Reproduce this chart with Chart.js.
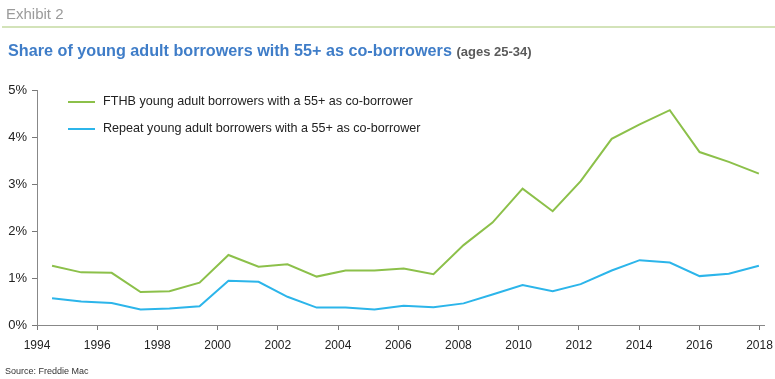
<!DOCTYPE html>
<html>
<head>
<meta charset="utf-8">
<script src="https://cdn.jsdelivr.net/npm/chart.js@4.4.1/dist/chart.umd.min.js"></script>
<style>
  html, body { margin: 0; padding: 0; background: #fff; }
  body { width: 775px; height: 379px; position: relative; overflow: hidden; font-family: "Liberation Sans", Arial, sans-serif; }
  #wrap { position: absolute; left: 0; top: 0; width: 775px; height: 379px; }
  .exhibit { position: absolute; left: 6px; top: 5px; font-size: 15px; color: #9b9b9b; }
  .rule { position: absolute; left: 2px; right: 0; top: 26px; height: 2px; background: #d3e3b9; }
  .title { position: absolute; left: 8px; top: 41px; font-size: 16.2px; font-weight: bold; color: #3f7dc8; white-space: nowrap; }
  .title span { font-size: 13px; color: #5a5a5a; }
  .source { position: absolute; left: 5px; top: 366px; font-size: 9px; color: #333; }
</style>
</head>
<body>
<div id="wrap"><canvas id="lineChart" width="775" height="379"></canvas></div>
<div class="exhibit">Exhibit 2</div>
<div class="rule"></div>
<div class="title">Share of young adult borrowers with 55+ as co-borrowers <span>(ages 25-34)</span></div>
<div class="source">Source: Freddie Mac</div>
<script>
// point positions on the year axis
var years = [1994.5, 1995.47, 1996.48, 1997.44, 1998.4, 1999.4, 2000.36, 2001.36, 2002.32, 2003.29,
  2004.25, 2005.21, 2006.18, 2007.17, 2008.17, 2009.13, 2010.13, 2011.13, 2012.06, 2013.09,
  2014.02, 2015.02, 2016.01, 2016.98, 2017.98];
var fthb = [1.26, 1.12, 1.11, 0.70, 0.72, 0.90, 1.49, 1.24, 1.29, 1.03,
  1.16, 1.16, 1.20, 1.08, 1.70, 2.18, 2.90, 2.42, 3.06, 3.96,
  4.27, 4.57, 3.68, 3.47, 3.22];
var repeat = [0.57, 0.50, 0.47, 0.33, 0.35, 0.40, 0.94, 0.92, 0.60, 0.37,
  0.37, 0.33, 0.41, 0.38, 0.46, 0.65, 0.85, 0.72, 0.87, 1.16,
  1.38, 1.33, 1.04, 1.09, 1.26];
var seriesNames = ["FTHB young adult borrowers with a 55+ as co-borrower",
  "Repeat young adult borrowers with a 55+ as co-borrower"];
var yTicks = [0, 1, 2, 3, 4, 5];

function pts(vals) {
  return vals.map(function (v, i) { return { x: years[i], y: v }; });
}

// legend drawn inside the plot, top-left
var insideLegend = {
  id: 'insideLegend',
  afterDraw: function (chart) {
    var ctx = chart.ctx;
    var a = chart.chartArea;
    ctx.save();
    ctx.font = '12.6px "Liberation Sans", Arial, sans-serif';
    ctx.textBaseline = 'middle';
    chart.data.datasets.forEach(function (ds, i) {
      var y = a.top + 12 + i * 27;
      ctx.strokeStyle = ds.borderColor;
      ctx.lineWidth = 2;
      ctx.beginPath();
      ctx.moveTo(a.left + 31, y);
      ctx.lineTo(a.left + 58, y);
      ctx.stroke();
      ctx.fillStyle = '#222';
      ctx.fillText(ds.label, a.left + 66, y);
    });
    ctx.restore();
  }
};

var ctxL = document.getElementById("lineChart").getContext('2d');
var myLineChart = new Chart(ctxL, {
  type: 'line',
  data: {
    datasets: [{
        label: seriesNames[0],
        data: pts(fthb),
        borderColor: '#8cc04a',
        borderWidth: 2,
        pointRadius: 0,
        tension: 0
      },
      {
        label: seriesNames[1],
        data: pts(repeat),
        borderColor: '#2cb5ea',
        borderWidth: 2,
        pointRadius: 0,
        tension: 0
      }
    ]
  },
  options: {
    responsive: false,
    animation: false,
    layout: { padding: { top: 90, right: 11, left: 0, bottom: 0 } },
    plugins: {
      legend: { display: false },
      tooltip: { enabled: false }
    },
    scales: {
      x: {
        type: 'linear',
        min: 1994,
        max: 2018.15,
        afterFit: function (s) { s.height = 54; s.paddingRight = 0; },
        ticks: {
          stepSize: 2,
          includeBounds: false,
          padding: 8,
          color: '#222',
          font: { size: 12, family: '"Liberation Sans", Arial, sans-serif' },
          maxRotation: 0,
          callback: function (v) { return String(v); }
        },
        grid: { drawOnChartArea: false, drawTicks: true, tickLength: 5, color: '#777' },
        border: { display: true, color: '#888', width: 1 }
      },
      y: {
        min: 0,
        max: 5,
        afterFit: function (s) { s.width = 37; },
        afterBuildTicks: function (s) { s.ticks = yTicks.map(function (v) { return { value: v }; }); },
        ticks: {
          padding: 5,
          color: '#222',
          font: { size: 13, family: '"Liberation Sans", Arial, sans-serif' },
          callback: function (v) { return v + '%'; }
        },
        grid: { drawOnChartArea: false, drawTicks: true, tickLength: 5, color: '#777' },
        border: { display: true, color: '#888', width: 1 }
      }
    }
  },
  plugins: [insideLegend]
});
</script>
</body>
</html>
